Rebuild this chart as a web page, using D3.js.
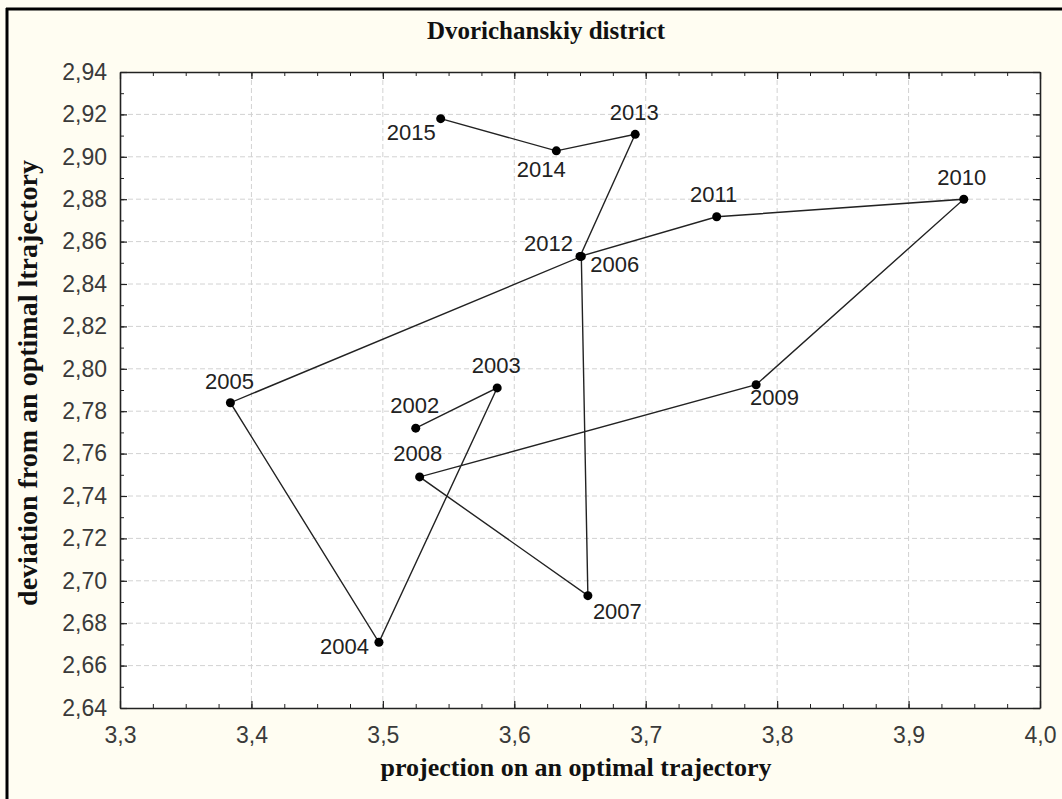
<!DOCTYPE html>
<html>
<head>
<meta charset="utf-8">
<script src="https://cdn.jsdelivr.net/npm/d3@7"></script>
<style>
  html, body { margin: 0; padding: 0; background: #fffdf2; }
  svg { display: block; }
</style>
</head>
<body>
<script>
// ---- data ----
const years = ["2002","2003","2004","2005","2006","2007","2008","2009","2010","2011","2012","2013","2014","2015"];
const projection = [3.525, 3.587, 3.497, 3.384, 3.651, 3.656, 3.528, 3.784, 3.942, 3.754, 3.650, 3.692, 3.632, 3.544];
const deviation  = [2.772, 2.791, 2.671, 2.784, 2.853, 2.693, 2.749, 2.7925, 2.880, 2.8717, 2.853, 2.9106, 2.9028, 2.918];
const xTicks = [3.3, 3.4, 3.5, 3.6, 3.7, 3.8, 3.9, 4.0];
const yTicks = [2.64, 2.66, 2.68, 2.70, 2.72, 2.74, 2.76, 2.78, 2.80, 2.82, 2.84, 2.86, 2.88, 2.90, 2.92, 2.94];
const titleText = "Dvorichanskiy district";
const xTitle = "projection on an optimal trajectory";
const yTitle = "deviation from an optimal ltrajectory";

// label placement (layout only)
const labelPlace = {
  "2002": ["middle", -1, -15], "2003": ["middle", -1, -15], "2004": ["end", -10, 12],
  "2005": ["middle", -1, -14], "2006": ["start", 9, 16],   "2007": ["start", 5, 23],
  "2008": ["middle", -2, -16], "2009": ["start", -6, 20],  "2010": ["middle", -2, -14],
  "2011": ["middle", -3, -15], "2012": ["end", -7, -5],    "2013": ["middle", -1, -14],
  "2014": ["middle", -15, 26], "2015": ["end", -5, 21]
};

const W = 1062, H = 799;
const m = { left: 120, right: 1040, top: 72, bottom: 708 };

const svg = d3.select("body").append("svg").attr("width", W).attr("height", H);
svg.append("rect").attr("width", W).attr("height", H).attr("fill", "#fffdf2");
// frame
svg.append("line").attr("x1", 7).attr("x2", 7).attr("y1", 8).attr("y2", H).attr("stroke", "#000").attr("stroke-width", 3);
svg.append("line").attr("x1", 6).attr("x2", W).attr("y1", 9).attr("y2", 9).attr("stroke", "#000").attr("stroke-width", 3);

const x = d3.scaleLinear().domain([3.3, 4.0]).range([m.left, m.right]);
const y = d3.scaleLinear().domain([2.64, 2.94]).range([m.bottom, m.top]);

svg.append("rect").attr("x", m.left).attr("y", m.top)
  .attr("width", m.right - m.left).attr("height", m.bottom - m.top).attr("fill", "#fff");

// grid
const g = svg.append("g");
g.selectAll("line.vg").data(xTicks.slice(1, -1)).join("line")
  .attr("x1", d => x(d)).attr("x2", d => x(d)).attr("y1", m.top).attr("y2", m.bottom)
  .attr("stroke", "#d2d2d2").attr("stroke-width", 1).attr("stroke-dasharray", "5,3");
g.selectAll("line.hg").data(yTicks.slice(1, -1)).join("line")
  .attr("x1", m.left).attr("x2", m.right).attr("y1", d => y(d)).attr("y2", d => y(d))
  .attr("stroke", "#d2d2d2").attr("stroke-width", 1).attr("stroke-dasharray", "5,3");

// minor ticks
const xMinor = d3.range(0, 29).map(i => 3.3 + i * 0.025);
const yMinor = d3.range(0, 31).map(i => 2.64 + i * 0.01);
const fmtX = d => d3.format(".1f")(d).replace(".", ",");
const fmtY = d => d3.format(".2f")(d).replace(".", ",");

function axisStyle(sel) {
  sel.select(".domain").attr("stroke", "#222").attr("stroke-width", 1.6);
  sel.selectAll(".tick line").attr("stroke", "#222").attr("stroke-width", 1.2);
  sel.selectAll("text").attr("font-family", "'Liberation Sans', Arial, sans-serif")
    .attr("font-size", 23).attr("fill", "#3a3a3a");
}

// bottom
const axB = svg.append("g").attr("transform", `translate(0,${m.bottom})`)
  .call(d3.axisBottom(x).tickValues(xTicks).tickFormat(fmtX).tickSizeInner(-7).tickSizeOuter(0).tickPadding(19));
axisStyle(axB);
svg.append("g").attr("transform", `translate(0,${m.bottom})`)
  .call(d3.axisBottom(x).tickValues(xMinor).tickFormat("").tickSizeInner(-4).tickSizeOuter(0))
  .call(s => { s.select(".domain").remove(); s.selectAll("line").attr("stroke", "#222"); });
// top
const axT = svg.append("g").attr("transform", `translate(0,${m.top})`)
  .call(d3.axisTop(x).tickValues(xTicks).tickFormat("").tickSizeInner(-7).tickSizeOuter(0));
axisStyle(axT);
svg.append("g").attr("transform", `translate(0,${m.top})`)
  .call(d3.axisTop(x).tickValues(xMinor).tickFormat("").tickSizeInner(-4).tickSizeOuter(0))
  .call(s => { s.select(".domain").remove(); s.selectAll("line").attr("stroke", "#222"); });
// left
const axL = svg.append("g").attr("transform", `translate(${m.left},0)`)
  .call(d3.axisLeft(y).tickValues(yTicks).tickFormat(fmtY).tickSizeInner(-7).tickSizeOuter(0).tickPadding(13));
axisStyle(axL);
svg.append("g").attr("transform", `translate(${m.left},0)`)
  .call(d3.axisLeft(y).tickValues(yMinor).tickFormat("").tickSizeInner(-4).tickSizeOuter(0))
  .call(s => { s.select(".domain").remove(); s.selectAll("line").attr("stroke", "#222"); });
// right
const axR = svg.append("g").attr("transform", `translate(${m.right},0)`)
  .call(d3.axisRight(y).tickValues(yTicks).tickFormat("").tickSizeInner(-7).tickSizeOuter(0));
axisStyle(axR);
svg.append("g").attr("transform", `translate(${m.right},0)`)
  .call(d3.axisRight(y).tickValues(yMinor).tickFormat("").tickSizeInner(-4).tickSizeOuter(0))
  .call(s => { s.select(".domain").remove(); s.selectAll("line").attr("stroke", "#222"); });

// path
const pts = years.map((yr, i) => ({ yr, px: projection[i], dv: deviation[i] }));
const line = d3.line().x(d => x(d.px)).y(d => y(d.dv));
svg.append("path").datum(pts).attr("d", line)
  .attr("fill", "none").attr("stroke", "#222").attr("stroke-width", 1.4);
svg.selectAll("circle.pt").data(pts).join("circle")
  .attr("cx", d => x(d.px)).attr("cy", d => y(d.dv)).attr("r", 4.5).attr("fill", "#000");
svg.selectAll("text.lab").data(pts).join("text")
  .attr("x", d => x(d.px) + labelPlace[d.yr][1])
  .attr("y", d => y(d.dv) + labelPlace[d.yr][2])
  .attr("text-anchor", d => labelPlace[d.yr][0])
  .attr("font-family", "'Liberation Sans', Arial, sans-serif")
  .attr("font-size", 22).attr("fill", "#222")
  .text(d => d.yr);

// titles
svg.append("text").attr("x", 546).attr("y", 39).attr("text-anchor", "middle")
  .attr("font-family", "'Liberation Serif', 'Times New Roman', serif").attr("font-weight", "bold")
  .attr("font-size", 25).attr("fill", "#111").text(titleText);
svg.append("text").attr("x", 576).attr("y", 776).attr("text-anchor", "middle")
  .attr("font-family", "'Liberation Serif', 'Times New Roman', serif").attr("font-weight", "bold")
  .attr("font-size", 26).attr("fill", "#111").text(xTitle);
svg.append("text").attr("transform", `translate(37,383) rotate(-90)`)
  .attr("text-anchor", "middle")
  .attr("font-family", "'Liberation Serif', 'Times New Roman', serif").attr("font-weight", "bold")
  .attr("font-size", 28).attr("fill", "#111").text(yTitle);
</script>
</body>
</html>
